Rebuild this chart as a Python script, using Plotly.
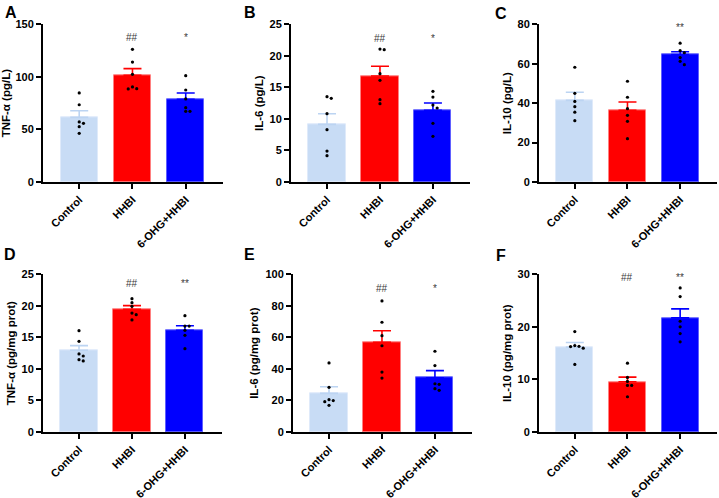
import plotly.graph_objects as go

# ---------------- data ----------------
groups = ["Control", "HHBI", "6-OHG+HHBI"]
panel_letters = ["A", "B", "C", "D", "E", "F"]
y_titles = ["TNF-α (pg/L)", "IL-6 (pg/L)", "IL-10 (pg/L)",
            "TNF-α (pg/mg prot)", "IL-6 (pg/mg prot)", "IL-10 (pg/mg prot)"]
y_max = [150, 25, 80, 25, 100, 30]
y_dtick = [50, 5, 20, 5, 20, 10]

means_A = [61.5, 101.5, 78.6]
sem_A = [6.3, 6.3, 6.1]
dots_A = [[84.7, 73.5, 57.1, 55.8, 52.6, 46.3],
          [126.2, 114.1, 102.4, 90.4, 88.5, 88.8],
          [101.1, 87.5, 79.0, 70.7, 67.2, 67.2]]
sig_A = ["", "##", "*"]

means_B = [9.14, 16.8, 11.36]
sem_B = [1.69, 1.54, 1.16]
dots_B = [[13.27, 13.53, 10.83, 8.30, 4.91, 4.17],
          [21.08, 20.97, 17.17, 16.12, 13.05, 12.42],
          [14.37, 13.47, 12.2, 11.73, 9.30, 7.24]]
sig_B = ["", "##", "*"]

means_C = [41.4, 36.4, 64.6]
sem_C = [4.1, 4.2, 1.5]
dots_C = [[58.2, 45.0, 40.9, 38.2, 35.4, 31.1],
          [51.1, 43.0, 37.2, 33.8, 30.8, 22.0],
          [70.4, 66.6, 65.6, 63.1, 61.2, 59.5]]
sig_C = ["", "", "**"]

means_D = [12.95, 19.45, 16.12]
sem_D = [0.74, 0.58, 0.73]
dots_D = [[16.06, 14.37, 12.37, 12.05, 11.47, 11.26],
          [21.14, 20.5, 19.92, 18.86, 18.6, 17.76],
          [18.44, 16.8, 16.8, 16.12, 15.33, 13.21]]
sig_D = ["", "##", "**"]

means_E = [24.5, 56.9, 34.4]
sem_E = [4.2, 7.3, 4.5]
dots_E = [[43.8, 28.3, 20.5, 19.9, 19.2, 16.9],
          [83.1, 69.6, 61.1, 54.7, 38.0, 34.2],
          [51.2, 42.1, 30.6, 30.2, 27.5, 26.4]]
sig_E = ["", "##", "*"]

means_F = [16.14, 9.55, 21.71]
sem_F = [0.89, 0.89, 1.71]
dots_F = [[19.1, 16.45, 16.3, 16.26, 15.95, 12.85],
          [13.1, 10.38, 9.62, 8.86, 8.86, 6.71],
          [27.4, 25.76, 21.07, 20.0, 18.73, 17.15]]
sig_F = ["", "##", "**"]

# height of significance labels (data units)
sig_y = [137, 22.8, 78.5, 23.6, 91, 29.4]

# ---------------- style / layout ----------------
W, H = 719, 498
bar_colors = ["#c8dcf5", "#ff0000", "#0000ff"]
bar_edge = ["#dfeafa", "#ff8080", "#6060ff"]
err_colors = ["#bcd4f2", "#ff0000", "#0000ff"]
FONT = "Arial, Liberation Sans, sans-serif"

# pixel boxes of the plot areas: (x0, x1, ytop, ybottom)
boxes = [(43, 223, 24.3, 182), (291, 470, 24.3, 182), (539, 717, 24.3, 182),
         (43, 222, 274.3, 432), (293, 472, 274.3, 432), (539, 717, 274.3, 432)]
letter_pos = [(3, 2), (242, 2), (493, 3), (2, 244), (242, 244), (494, 245)]

means = [means_A, means_B, means_C, means_D, means_E, means_F]
sems = [sem_A, sem_B, sem_C, sem_D, sem_E, sem_F]
dots = [dots_A, dots_B, dots_C, dots_D, dots_E, dots_F]
sigs = [sig_A, sig_B, sig_C, sig_D, sig_E, sig_F]


def swarm(values, px_per_unit, step=0.08, min_px=3.4):
    """simple beeswarm: offset dots that would overlap vertically"""
    placed = []
    offs = [0] * len(values)
    order = sorted(range(len(values)), key=lambda i: -values[i])
    for i in order:
        for cand in [0, 1, -1, 2, -2, 3, -3]:
            ok = True
            for (v, o) in placed:
                if o == cand and abs(v - values[i]) * px_per_unit < min_px:
                    ok = False
                    break
            if ok:
                offs[i] = cand * step
                placed.append((values[i], cand))
                break
    return offs


fig = go.Figure()
layout = dict(width=W, height=H, margin=dict(l=0, r=0, t=0, b=0, autoexpand=False),
              paper_bgcolor="white", plot_bgcolor="white",
              showlegend=False, font=dict(family=FONT, color="black"),
              bargap=0)
annotations = []

for p in range(6):
    n = "" if p == 0 else str(p + 1)
    xa, ya = "x" + n, "y" + n
    x0, x1, yt, yb = boxes[p]
    px_per_unit = (yb - yt) / y_max[p]

    fig.add_trace(go.Bar(
        x=[0, 1, 2], y=means[p], width=0.7, xaxis=xa, yaxis=ya,
        marker=dict(color=bar_colors, line=dict(color=bar_edge, width=1)),
        hoverinfo="skip"))
    # coloured SEM error bars (one per group so each has its own colour)
    for g in range(3):
        fig.add_trace(go.Scatter(
            x=[g], y=[means[p][g]], mode="markers", xaxis=xa, yaxis=ya,
            marker=dict(size=1, color="rgba(0,0,0,0)"),
            error_y=dict(type="data", array=[sems[p][g]], symmetric=False,
                         arrayminus=[0], width=9, thickness=1.6,
                         color=err_colors[g]),
            hoverinfo="skip"))
    for g in range(3):
        offs = swarm(dots[p][g], px_per_unit)
        fig.add_trace(go.Scatter(
            x=[g + o for o in offs], y=dots[p][g], mode="markers",
            xaxis=xa, yaxis=ya,
            marker=dict(size=3.2, color="black"), hoverinfo="skip"))
        if sigs[p][g]:
            annotations.append(dict(
                x=g, y=sig_y[p], xref=xa, yref=ya, text=sigs[p][g],
                showarrow=False, font=dict(size=10, color="#3a3a3a", family=FONT),
                xanchor="center", yanchor="middle"))

    ax_common = dict(showline=True, linecolor="black", linewidth=2,
                     ticks="outside", ticklen=5, tickwidth=2,
                     tickcolor="black", showgrid=False, zeroline=False,
                     automargin=False,
                     tickfont=dict(size=11, family=FONT, color="black",
                                   weight="bold"))
    layout["xaxis" + n] = dict(
        ax_common, domain=[x0 / W, x1 / W], range=[-0.68, 2.7],
        tickmode="array", tickvals=[0, 1, 2], ticktext=groups,
        tickangle=-45, anchor=ya, fixedrange=True)
    layout["yaxis" + n] = dict(
        ax_common, domain=[1 - yb / H, 1 - yt / H], range=[0, y_max[p]],
        dtick=y_dtick[p], tick0=0, anchor=xa, fixedrange=True,
        title=dict(text=y_titles[p], standoff=4,
                   font=dict(size=11.5, family=FONT, color="black",
                             weight="bold")))
    lx, ly = letter_pos[p]
    annotations.append(dict(
        x=lx / W, y=1 - ly / H, xref="paper", yref="paper",
        text=panel_letters[p], showarrow=False, xanchor="left",
        yanchor="top", font=dict(size=16, family=FONT, color="black",
                                 weight="bold")))

layout["annotations"] = annotations
fig.update_layout(**layout)
fig.write_html(
    "out.html",
    config={"displayModeBar": False},
    post_script="document.body.style.margin='0';document.body.style.overflow='hidden';",
)
